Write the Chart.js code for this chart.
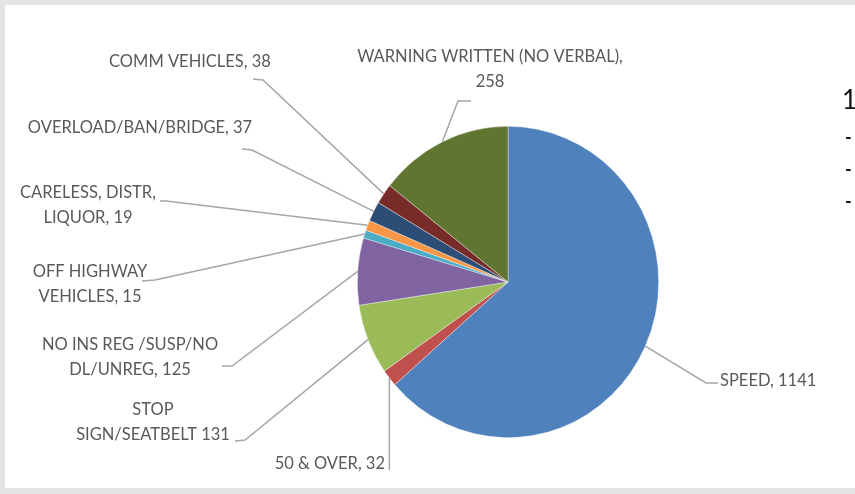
<!DOCTYPE html>
<html>
<head>
<meta charset="utf-8">
<script src="https://cdn.jsdelivr.net/npm/chart.js@4"></script>
<style>
  html, body { margin: 0; padding: 0; }
  body { width: 855px; height: 494px; background: #e4e4e4; position: relative; overflow: hidden; }
  .panel { position: absolute; left: 5px; top: 5px; width: 850px; height: 483px; background: #fff; }
  #wrap { position: absolute; left: 0; top: 0; width: 855px; height: 494px; }
</style>
</head>
<body>
<div class="panel"></div>
<div id="wrap"><canvas id="pie" width="855" height="494"></canvas></div>
<script>
// slices, clockwise from 12 o'clock
const categories = ['SPEED', '50 & OVER', 'STOP SIGN/SEATBELT', 'NO INS REG /SUSP/NO DL/UNREG',
  'OFF HIGHWAY VEHICLES', 'CARELESS, DISTR, LIQUOR', 'OVERLOAD/BAN/BRIDGE', 'COMM VEHICLES',
  'WARNING WRITTEN (NO VERBAL)'];
const values = [1141, 32, 131, 125, 15, 19, 37, 38, 258];
const labelText = [
  ['SPEED, 1141'],
  ['50 & OVER, 32'],
  ['STOP', 'SIGN/SEATBELT 131'],
  ['NO INS REG /SUSP/NO', 'DL/UNREG, 125'],
  ['OFF HIGHWAY', 'VEHICLES, 15'],
  ['CARELESS, DISTR,', 'LIQUOR, 19'],
  ['OVERLOAD/BAN/BRIDGE, 37'],
  ['COMM VEHICLES, 38'],
  ['WARNING WRITTEN (NO VERBAL),', '258']
];
const colors = ['#4f81bd', '#c0504d', '#9bbb59', '#8064a2', '#4bacc6', '#f79646', '#2c4d75', '#772c2a', '#5f7530'];

// where each data label sits: text x, first line y, align, leader stub points
const labelPos = [
  { x: 720, y: 381, align: 'left', stub: [[718, 383], [706, 383]] },
  { x: 385, y: 464, align: 'right', stub: [[390, 470]], vertical: true },
  { x: 153, y: 410, align: 'center', stub: [[235, 441], [245, 440]] },
  { x: 130, y: 345, align: 'center', stub: [[222, 366], [232, 366]] },
  { x: 90, y: 272, align: 'center', stub: [[142, 281], [155, 280]] },
  { x: 88, y: 193, align: 'center', stub: [[160, 201], [166, 201]] },
  { x: 140, y: 128, align: 'center', stub: [[242, 149], [252, 150]] },
  { x: 190, y: 62, align: 'center', stub: [[253, 79], [263, 80]] },
  { x: 490, y: 57, align: 'center', stub: [[471, 101], [458, 101]] }
];

const yStretch = 1.033;
const labelFont = '16.5px Lato';
const lineH = 24.5;

const ellipsePlugin = {
  id: 'ellipse',
  beforeDatasetsDraw(chart) {
    const arc = chart.getDatasetMeta(0).data[0];
    const ctx = chart.ctx;
    ctx.save();
    ctx.translate(arc.x, arc.y);
    ctx.scale(1, yStretch);
    ctx.translate(-arc.x, -arc.y);
  },
  afterDatasetsDraw(chart) {
    const ctx = chart.ctx;
    ctx.restore();
    const meta = chart.getDatasetMeta(0);
    ctx.save();
    ctx.font = labelFont;
    ctx.fillStyle = '#595959';
    ctx.textBaseline = 'middle';
    meta.data.forEach((el, i) => {
      const p = el.getProps(['x', 'y', 'startAngle', 'endAngle', 'outerRadius'], true);
      const mid = (p.startAngle + p.endAngle) / 2;
      const ex = p.x + p.outerRadius * Math.cos(mid);
      const ey = p.y + p.outerRadius * yStretch * Math.sin(mid);
      const pos = labelPos[i];
      ctx.strokeStyle = '#a6a6a6';
      ctx.lineWidth = 1.5;
      ctx.beginPath();
      if (pos.vertical) {
        ctx.moveTo(ex, pos.stub[0][1]);
      } else {
        ctx.moveTo(pos.stub[0][0], pos.stub[0][1]);
        ctx.lineTo(pos.stub[1][0], pos.stub[1][1]);
      }
      ctx.lineTo(ex, ey);
      ctx.stroke();
      ctx.textAlign = pos.align;
      labelText[i].forEach((t, j) => ctx.fillText(t, pos.x, pos.y + j * lineH));
    });
    // cut-off legend at the right edge
    ctx.fillStyle = '#111';
    ctx.textAlign = 'left';
    ctx.font = '26px Lato';
    ctx.fillText('1', 842, 101);
    ctx.font = 'bold 18px Lato';
    ['-', '-', '-'].forEach((t, j) => ctx.fillText(t, 845, 138 + j * 32));
    ctx.restore();
  }
};

new Chart(document.getElementById('pie'), {
  type: 'pie',
  data: {
    labels: categories,
    datasets: [{
      data: values,
      backgroundColor: colors,
      borderColor: 'rgba(255,255,255,0.6)',
      borderWidth: 0.6,
      hoverOffset: 0
    }]
  },
  options: {
    responsive: false,
    animation: false,
    layout: { padding: { left: 357, right: 196, top: 131, bottom: 61 } },
    plugins: {
      legend: { display: false },
      tooltip: { enabled: false }
    }
  },
  plugins: [ellipsePlugin]
});
</script>
</body>
</html>
